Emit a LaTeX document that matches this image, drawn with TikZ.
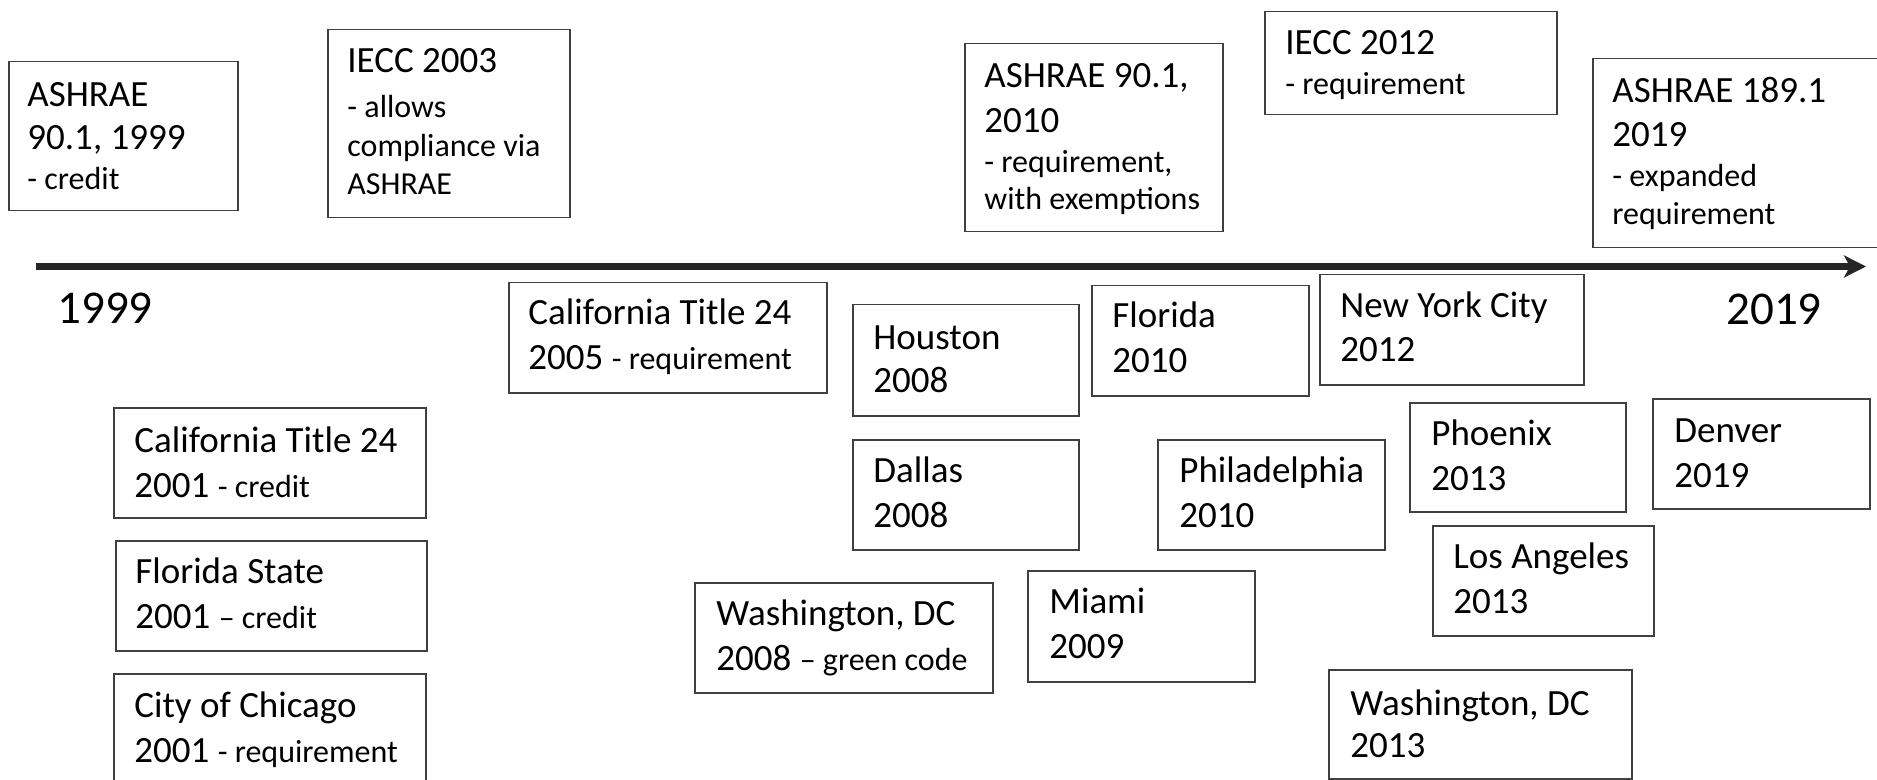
\documentclass[tikz,border=0pt]{standalone}
\usepackage{fontspec}
\setmainfont{Carlito}
\usetikzlibrary{arrows.meta}
\definecolor{boxgray}{HTML}{404040}
\definecolor{axisgray}{HTML}{262626}
\newcommand\LL[2][22]{\baselineskip=#1pt\hbox{\fontsize{18.5}{22}\selectfont #2}}
\newcommand\SL[2][19.5]{\baselineskip=#1pt\hbox{\fontsize{16}{19.5}\selectfont #2}}
\newcommand\sm[1]{{\fontsize{16}{19.5}\selectfont #1}}
% name, x1, y1, x2, y2, text x, first baseline y, lines
\newcommand\tlbox[8]{%
  \node[boxst, minimum width={(#4-#2)*0.5pt}, minimum height={(#5-#3)*0.5pt}] (#1) at (#2,#3) {};
  \node[txt] (#1-t) at (#6,#7) {\vtop{\lineskiplimit=-\maxdimen #8}};
}
\begin{document}
\begin{tikzpicture}[x=0.5pt,y=-0.5pt,
  boxst/.style={draw=boxgray, line width=0.75pt, inner sep=0pt, anchor=north west, fill=none},
  txt/.style={inner sep=0pt, anchor=base west, text=black},
  yearlbl/.style={inner sep=0pt, anchor=base west, font=\fontsize{23.5}{28}\selectfont},
  axisline/.style={draw=axisgray, line width=3.3pt, -{Stealth[length=11pt,width=11pt,inset=3pt]}}]
\useasboundingbox (0,0) rectangle (1877,780);
\clip (0,0) rectangle (1877,780);
\fill[white] (0,0) rectangle (1877,780);
% timeline
\coordinate (axs) at (36,266.5);
\coordinate (axe) at (1866,266.5);
\draw[axisline] (axs) -- (axe);
\node[yearlbl] (y1999) at (57,324) {1999};
\node[yearlbl] (y2019) at (1726,325) {2019};
% standards above the line
\tlbox{a1999}{8}{61}{237}{210}{27}{107}{\LL{ASHRAE}\LL[21.5]{90.1, 1999}\SL[20]{- credit}}
\tlbox{iecc03}{327}{29}{569}{217}{347}{73}{\LL{IECC 2003}\SL[22.5]{- allows}\SL[19.5]{compliance via}\SL[19]{ASHRAE}}
\tlbox{a2010}{964}{43}{1222}{231}{984}{88}{\LL{ASHRAE 90.1,}\LL[22.5]{2010}\SL[20]{- requirement,}\SL[18.5]{with exemptions}}
\tlbox{iecc12}{1264}{11}{1556}{114}{1285}{55}{\LL{IECC 2012}\SL[20]{- requirement}}
\tlbox{a189}{1592}{58}{1900}{247}{1612}{103}{\LL{ASHRAE 189.1}\LL[22]{2019}\SL[20]{- expanded}\SL[19]{requirement}}
% jurisdictions below the line
\tlbox{ca05}{508}{282}{826}{392}{528}{325}{\LL{California Title 24}\LL[22.5]{2005 \sm{- requirement}}}
\tlbox{ca01}{113}{407}{425}{517}{134}{452}{\LL{California Title 24}\LL[22.5]{2001 \sm{- credit}}}
\tlbox{fl01}{115}{540}{426}{650}{135}{583}{\LL{Florida State}\LL[22.5]{2001 \sm{– credit}}}
\tlbox{chi01}{113}{673}{425}{800}{134}{717}{\LL{City of Chicago}\LL[22.5]{2001 \sm{- requirement}}}
\tlbox{hou}{852}{304}{1078}{415}{873}{350}{\LL{Houston}\LL[21.5]{2008}}
\tlbox{fl10}{1091}{285}{1308}{395}{1112}{328}{\LL{Florida}\LL[22.5]{2010}}
\tlbox{nyc}{1319}{274}{1583}{384}{1340}{318}{\LL{New York City}\LL[22]{2012}}
\tlbox{dal}{852}{439}{1078}{549}{873}{482}{\LL{Dallas}\LL[22.5]{2008}}
\tlbox{phi}{1157}{439}{1384}{549}{1179}{482}{\LL{Philadelphia}\LL[22.5]{2010}}
\tlbox{dc08}{694}{582}{992}{692}{716}{625}{\LL{Washington, DC}\LL[22.5]{2008 \sm{– green code}}}
\tlbox{mia}{1027}{570}{1254}{681}{1049}{613}{\LL{Miami}\LL[22.5]{2009}}
\tlbox{dc13}{1328}{669}{1631}{778}{1350}{715}{\LL{Washington, DC}\LL[21]{2013}}
\tlbox{pho}{1409}{402}{1625}{511}{1431}{445}{\LL{Phoenix}\LL[22.5]{2013}}
\tlbox{den}{1652}{398}{1869}{508}{1674}{442}{\LL{Denver}\LL[22.5]{2019}}
\tlbox{la}{1432}{525}{1653}{635}{1453}{568}{\LL{Los Angeles}\LL[22.5]{2013}}
\end{tikzpicture}
\end{document}
